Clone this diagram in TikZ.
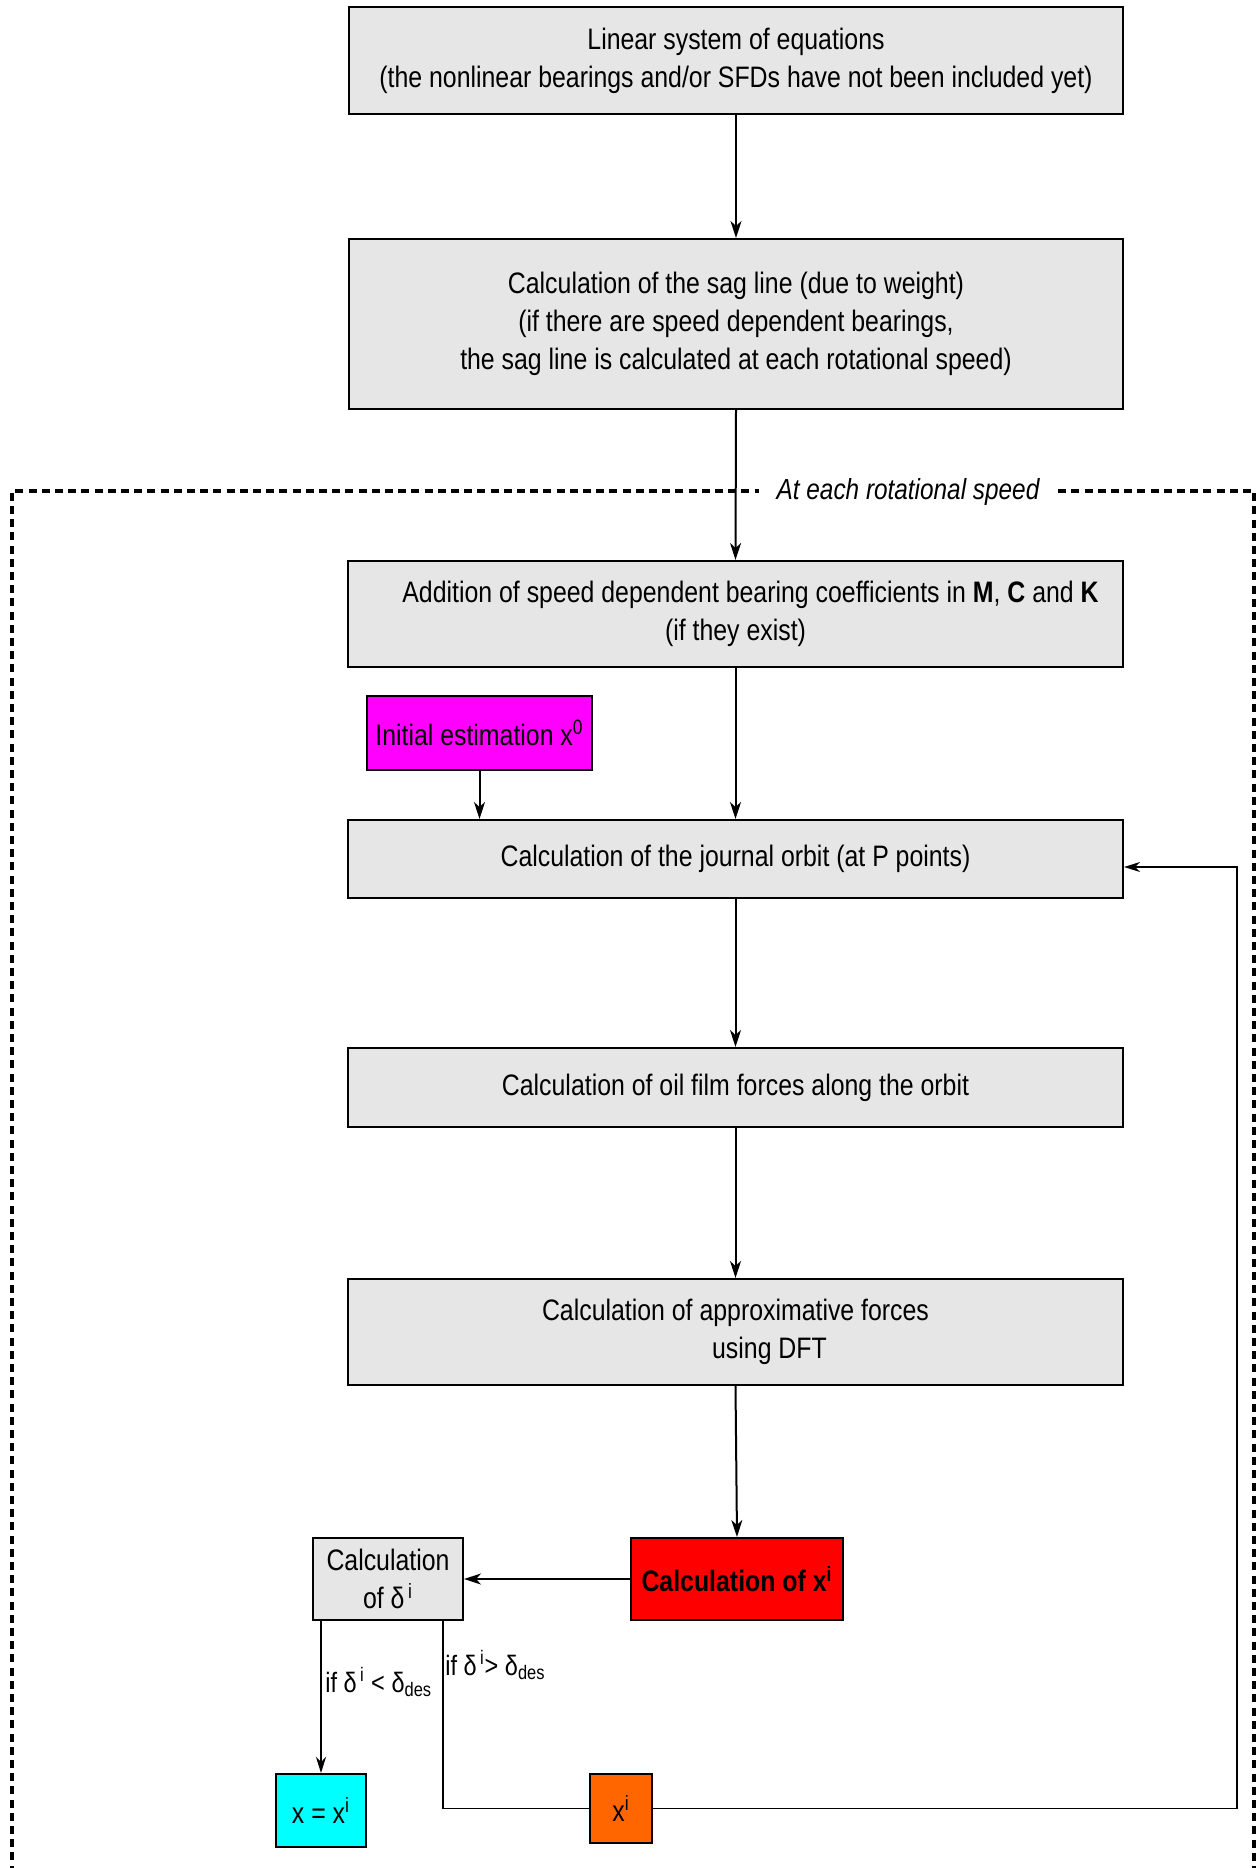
\documentclass[tikz,border=0pt]{standalone}
\usepackage{fontspec}
\setmainfont{Liberation Sans}[FakeStretch=0.84]
\usetikzlibrary{arrows.meta}
\definecolor{boxgray}{RGB}{230,230,230}
\definecolor{magb}{RGB}{255,0,255}
\definecolor{redb}{RGB}{255,0,0}
\definecolor{cyanb}{RGB}{0,255,255}
\definecolor{orangeb}{RGB}{255,102,0}
\begin{document}
\begin{tikzpicture}[x=1pt,y=1pt,
  box/.style={draw=black, line width=1pt, fill=boxgray, align=center, inner sep=0pt,
    font=\fontsize{14.8}{19}\selectfont},
  conn/.style={line width=1pt, -{Stealth[length=8.5pt,width=5.5pt,inset=2.5pt]}},
  thinconn/.style={line width=0.8pt, -{Stealth[length=8pt,width=5pt,inset=2.5pt]}},
  thinline/.style={line width=0.8pt},
  lbl/.style={font=\fontsize{14}{16}\selectfont, inner sep=0pt}]
\useasboundingbox (0,0) rectangle (629,-934);
\fill[white] (0,0) rectangle (629,-934);

% dashed frame
\draw[line width=2.2pt, dash pattern=on 4pt off 2.6pt] (6,-950) -- (6,-245.5) -- (627,-245.5) -- (627,-950);
\node[fill=white, inner xsep=9pt, inner ysep=2pt, font=\fontsize{14.5}{16}\selectfont\itshape] (speed) at (454,-246) {At each rotational speed};

\node[box, minimum width=387pt, minimum height=53.5pt] (b1) at (368,-30.25)
  {Linear system of equations\\(the nonlinear bearings and/or SFDs have not been included yet)};
\node[box, minimum width=387pt, minimum height=85pt] (b2) at (368,-162)
  {Calculation of the sag line (due to weight)\\(if there are speed dependent bearings,\\the sag line is calculated at each rotational speed)};
\node[box, minimum width=387.5pt, minimum height=53pt] (b3) at (367.75,-307)
  {\hspace*{15pt}Addition of speed dependent bearing coefficients in \textbf{M}, \textbf{C} and \textbf{K}\\(if they exist)};
\node[box, fill=magb, minimum width=112.5pt, minimum height=37pt] (init) at (239.75,-366.5)
  {Initial estimation x\textsuperscript{0}};
\node[box, minimum width=387.5pt, minimum height=39pt] (b4) at (367.75,-429.5)
  {Calculation of the journal orbit (at P points)};
\node[box, minimum width=387.5pt, minimum height=39.5pt] (b5) at (367.75,-543.75)
  {Calculation of oil film forces along the orbit};
\node[box, minimum width=387.5pt, minimum height=53pt] (b6) at (367.75,-666)
  {Calculation of approximative forces\\\hspace*{34pt}using DFT};
\node[box, fill=redb, minimum width=106pt, minimum height=41pt] (xi) at (368.5,-789.5)
  {\textbf{Calculation of x\textsuperscript{i}}};
\node[box, minimum width=75pt, minimum height=41pt] (delta) at (194,-789.5)
  {Calculation\\of δ\textsuperscript{\,i}};
\node[box, fill=cyanb, minimum width=45pt, minimum height=36.5pt] (xeq) at (160.5,-905.25)
  {x = x\textsuperscript{i}};
\node[box, fill=orangeb, minimum width=31pt, minimum height=34.5pt] (xo) at (310.5,-904.25)
  {x\textsuperscript{i}};

% main column
\draw[conn] (b1.south) -- (b2.north);
\draw[conn] (b2.south) -- (b3.north);
\draw[conn] (b3.south) -- (b4.north);
\draw[conn] (init.south) -- (init.south |- b4.north);
\draw[conn] (b4.south) -- (b5.north);
\draw[conn] (b5.south) -- (b6.north);
\draw[conn] (b6.south) -- (xi.north);
\draw[conn] (xi.west) -- (delta.east);

% branches
\draw[thinconn] (xeq.north |- delta.south) -- (xeq.north);
\coordinate (dright) at ([xshift=-10.5pt]delta.south east);
\draw[thinline] (dright) |- (xo.west);
\coordinate (fbt) at (618.5,-433.5);
\draw[thinconn] (xo.east) -| (fbt) -- (fbt -| b4.east);

\node[lbl, anchor=west] (lt) at (162.5,-841) {if δ\textsuperscript{\,i} < δ\textsubscript{des}};
\node[lbl, anchor=west] (gt) at (222.5,-832.5) {if δ\textsuperscript{\,i}> δ\textsubscript{des}};
\end{tikzpicture}
\end{document}
